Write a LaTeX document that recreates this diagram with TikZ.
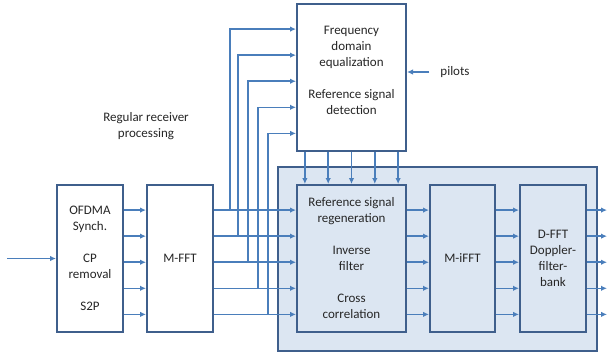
\documentclass[tikz,border=0pt]{standalone}
\usepackage{fontspec}
\setmainfont{Carlito}
\usetikzlibrary{arrows.meta,calc,positioning}
\definecolor{boxline}{HTML}{3F5F8C}
\definecolor{sigline}{HTML}{4A7EBB}
\definecolor{panel}{HTML}{DCE6F2}

\begin{document}
\begin{tikzpicture}[
           x = 1pt, y = -1pt,
           > = {Latex[length=6pt,width=5.5pt]},
 block/.style = {draw=boxline, line width=2pt, fill=white,
                 minimum width=66pt, minimum height=147pt,
                 align=center, inner sep=2pt},% processing boxes
   txt/.style = {align=center, inner sep=2pt},% free text
   sig/.style = {->, draw=sigline, line width=1.5pt},% signal lines
every node/.style = {font=\fontsize{13}{16}\selectfont, text=black!85},
]
\useasboundingbox (0,0) rectangle (608,360);
% radar processing panel
\node[block, minimum width=319pt, minimum height=184pt, fill=panel] (radar) at (437.5,259) {};
% receiver blocks
\node[block] (ofdma) at (90,258.5) {OFDMA\\Synch.\\[16pt]CP\\removal\\[16pt]S2P};
\node[block] (mfft)  at (180,258.5) {M-FFT};
\node[block, minimum width=109pt] (fde) at (351.5,77.5) {};
\node[txt] (fdetxt) at (351.5,70) {Frequency\\domain\\equalization\\[16pt]Reference signal\\detection};
% radar blocks
\node[block, minimum width=109pt, fill=panel] (rsr) at (351.5,258.5)
     {Reference signal\\regeneration\\[16pt]Inverse\\filter\\[16pt]Cross\\correlation};
\node[block, minimum width=65pt, fill=panel] (mifft) at (462.5,258.5) {M-iFFT};
\node[block, fill=panel] (dfft) at (553,258.5) {D-FFT\\Doppler-\\filter-\\bank};
% free text
\node[txt] (regular) at (146,126.5) {Regular receiver\\processing};
\node[txt] (pilots)  at (455,72) {pilots};
% input
\coordinate (rx) at (7,258.5);
\draw[sig] (rx) -- (ofdma.west);
% pilots
\draw[sig] ([xshift=-9pt]pilots.west) -- (pilots.west -| fde.east);
% parallel lines between blocks
\coordinate (outedge) at (607,0);
\foreach \f [count=\i] in {0.175,0.35,0.525,0.7,0.875}
{
\draw[sig] ($(ofdma.north east)!\f!(ofdma.south east)$) -- ($(mfft.north west)!\f!(mfft.south west)$);
\draw[sig] ($(rsr.north east)!\f!(rsr.south east)$) -- ($(mifft.north west)!\f!(mifft.south west)$);
\draw[sig] ($(mifft.north east)!\f!(mifft.south east)$) -- ($(dfft.north west)!\f!(dfft.south west)$);
\coordinate (d\i) at ($(dfft.north east)!\f!(dfft.south east)$);
\draw[sig] (d\i) -- (d\i -| outedge);
}
% M-FFT outputs with taps to equalization
\foreach \f/\x [count=\i] in {0.175/230,0.35/238,0.525/248,0.7/258,0.875/268}
{
\coordinate (m\i) at ($(mfft.north east)!\f!(mfft.south east)$);
\coordinate (tap\i) at (\x,0);
\draw[sig] (m\i) -- (m\i -| rsr.west);
\draw[sig] (m\i -| tap\i) |- ($(fde.north west)!\f!(fde.south west)$);
}
% equalization to regeneration
\foreach \f in {0.08,0.29,0.5,0.71,0.92}
\draw[sig] ($(fde.south west)!\f!(fde.south east)$) -- ($(rsr.north west)!\f!(rsr.north east)$);
\end{tikzpicture}
\end{document}
